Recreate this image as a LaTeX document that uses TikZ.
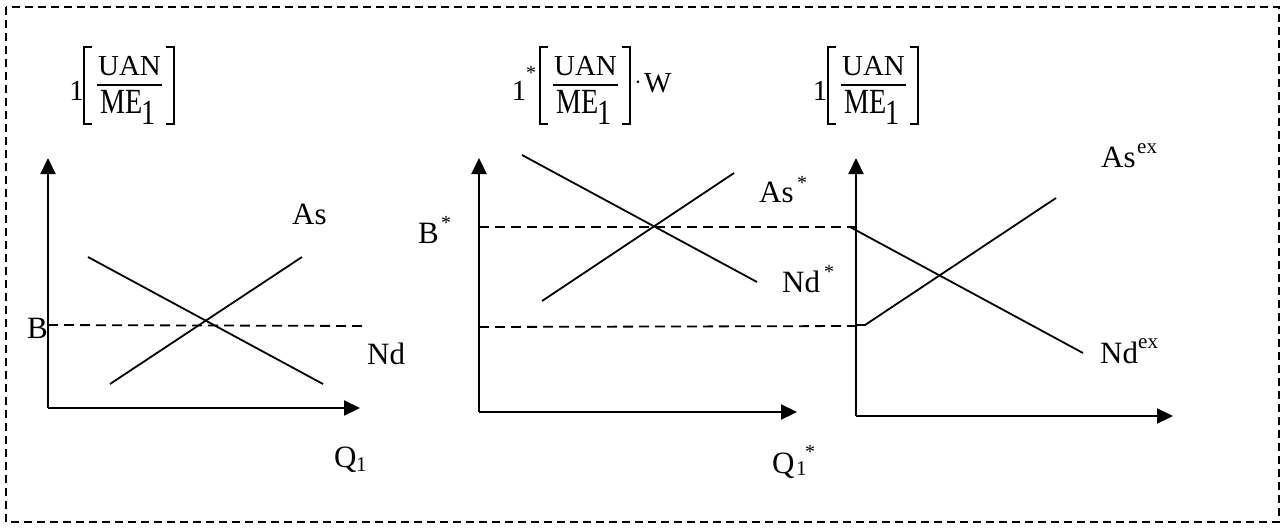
\documentclass[tikz,border=0pt]{standalone}
\usepackage{fontspec}
\usepackage{graphicx}
\setmainfont{Liberation Serif}
\usetikzlibrary{arrows.meta}
\tikzset{
  axisline/.style={line width=2.2pt,-{Triangle[length=16pt,width=15pt]}},
  curve/.style={line width=1.8pt},
  dline/.style={line width=1.8pt,dash pattern=on 10pt off 6pt},
  frameline/.style={line width=1.3pt,dash pattern=on 8pt off 5pt},
  brk/.style={line width=1.3pt},
  lbl/.style={inner sep=0pt,font=\fontsize{31}{36}\selectfont},
  tlbl/.style={inner sep=0pt,font=\fontsize{29}{32}\selectfont},
  sub/.style={inner sep=0pt,font=\fontsize{21}{24}\selectfont},
  sup/.style={inner sep=0pt,font=\fontsize{21}{24}\selectfont},
  star/.style={inner sep=0pt,anchor=base,font=\fontsize{20}{24}\selectfont},
}
\newcommand\UANtitle[2]{%
  \begin{scope}[xshift=#1pt]
    \draw[brk] (92,47) -- (84,47) -- (84,124) -- (92,124);
    \draw[brk] (166,47) -- (174,47) -- (174,124) -- (166,124);
    \draw[brk] (97,85) -- (162,85);
    \node[tlbl,anchor=base] (#2uan) at (129.5,75) {UAN};
    \node[tlbl,anchor=base west] (#2me) at (100,113) {\scalebox{0.97}[1.22]{ME}};
    \node[tlbl,anchor=base west] (#2one) at (141,124) {\scalebox{0.97}[1.22]{1}};
  \end{scope}}
\begin{document}
\begin{tikzpicture}[x=1pt,y=-1pt]
\useasboundingbox (0,0) rectangle (1288,528);
% frame
\draw[frameline] (6,7) rectangle (1279,522);

% ---------- panel 1 ----------
\coordinate (o1) at (48,408);
\coordinate (y1) at (48,158);
\coordinate (x1) at (360,408);
\draw[axisline] (o1) -- (y1);
\draw[axisline] (o1) -- (x1);
\coordinate (b1s) at (48,325);
\coordinate (b1e) at (367,326);
\draw[dline] (b1s) -- (b1e);
\coordinate (as1a) at (110,384); \coordinate (as1b) at (302,257);
\coordinate (nd1a) at (88,257);  \coordinate (nd1b) at (323,384);
\draw[curve] (as1a) -- (as1b);
\draw[curve] (nd1a) -- (nd1b);
\node[lbl,anchor=base west] (As1) at (292,224) {As};
\node[lbl,anchor=base west] (Nd1) at (367,364) {Nd};
\node[lbl,anchor=base west] (B1) at (27,338) {B};
\node[lbl,anchor=base west] (Q1) at (334,467) {Q};
\node[sub,anchor=base west] (Q1s) at (356,471) {1};
\node[tlbl,anchor=base] (T1one) at (76.5,100) {1};
\UANtitle{0}{p}

% ---------- panel 2 ----------
\coordinate (o2) at (479,412);
\coordinate (y2) at (479,158);
\coordinate (x2) at (797,412);
\draw[axisline] (o2) -- (y2);
\draw[axisline] (o2) -- (x2);
\coordinate (bs2s) at (479,227);
\coordinate (bs2e) at (857,227);
\draw[dline] (bs2s) -- (bs2e);
\coordinate (lo2s) at (479,327);
\coordinate (lo2e) at (857,326);
\draw[dline] (lo2s) -- (lo2e);
\coordinate (nd2a) at (522,155); \coordinate (nd2b) at (757,282);
\coordinate (as2a) at (542,301); \coordinate (as2b) at (734,173);
\draw[curve] (nd2a) -- (nd2b);
\draw[curve] (as2a) -- (as2b);
\node[lbl,anchor=base west] (As2) at (759,202) {As};
\node[star] (As2s) at (802,189) {*};
\node[lbl,anchor=base west] (Nd2) at (782,292) {Nd};
\node[star] (Nd2s) at (829,278) {*};
\node[lbl,anchor=base west] (B2) at (418,243) {B};
\node[star] (B2s) at (446,229) {*};
\node[lbl,anchor=base west] (Q2) at (772,473) {Q};
\node[sub,anchor=base west] (Q2s) at (796,475) {1};
\node[star] (Q2st) at (810,458) {*};
\node[tlbl,anchor=base] (T2one) at (519,100) {1};
\node[star] (T2st) at (531,79) {*};
\UANtitle{456}{q}
\node[tlbl,anchor=center] (T2dot) at (638,83) {$\cdot$};
\node[tlbl,anchor=base west] (T2W) at (644,92) {W};

% ---------- panel 3 ----------
\coordinate (o3) at (856,416);
\coordinate (y3) at (856,158);
\coordinate (x3) at (1173,416);
\draw[axisline] (o3) -- (y3);
\draw[axisline] (o3) -- (x3);
\coordinate (nd3a) at (850,227); \coordinate (nd3b) at (1083,353);
\coordinate (as3k0) at (857,325);
\coordinate (as3k) at (865,325); \coordinate (as3b) at (1056,198);
\draw[curve] (nd3a) -- (nd3b);
\draw[curve] (as3k0) -- (as3k) -- (as3b);
\node[lbl,anchor=base west] (As3) at (1101,167) {As};
\node[sup,anchor=base west] (As3s) at (1137,153) {ex};
\node[lbl,anchor=base west] (Nd3) at (1100,363) {Nd};
\node[sup,anchor=base west] (Nd3s) at (1138,348) {ex};
\node[tlbl,anchor=base] (T3one) at (820,100) {1};
\UANtitle{744}{r}
\end{tikzpicture}
\end{document}
